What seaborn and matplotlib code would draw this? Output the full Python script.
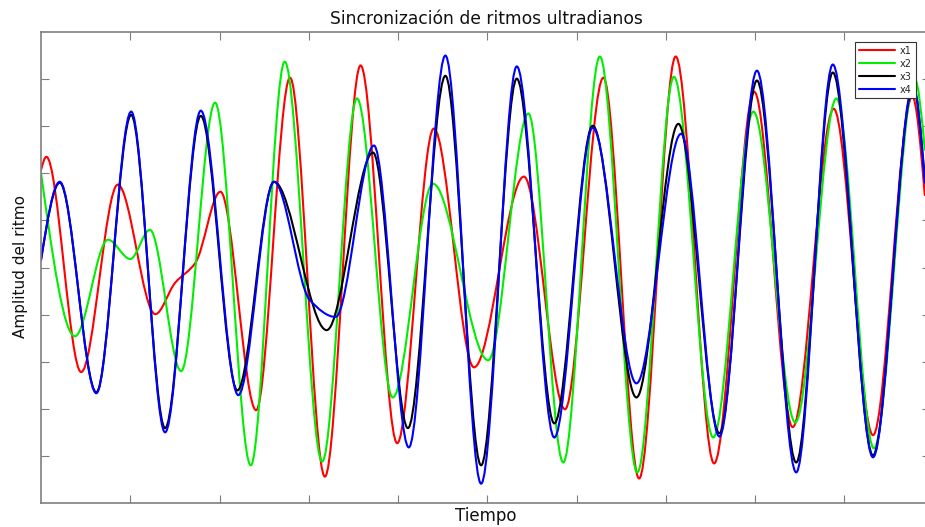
import numpy as np
import matplotlib
matplotlib.use("Agg")
import matplotlib.pyplot as plt
from matplotlib.path import Path
from matplotlib.patches import PathPatch
from matplotlib.lines import Line2D
import seaborn as sns

# extrema (and a few shoulder points), time vs amplitude
t_x1 = [0.00, 0.06, 0.45, 0.86, 1.28, 1.50, 1.73, 2.01, 2.41, 2.79, 3.18, 3.58, 3.99,
        4.40, 4.85, 5.41, 5.87, 6.30, 6.70, 7.11, 7.54, 7.99, 8.42, 8.88, 9.32, 9.76, 9.90]
y_x1 = [2.07, 2.35, -2.22, 1.76, -0.99, -0.33, 0.10, 1.61, -3.03, 4.03, -4.44, 4.29, -3.73,
        2.95, -2.12, 1.93, -3.01, 4.03, -4.48, 4.48, -4.16, 3.73, -3.39, 3.37, -3.56, 3.63, 1.54]

t_x2 = [0.00, 0.38, 0.75, 1.00, 1.22, 1.57, 1.95, 2.35, 2.73, 3.15, 3.54, 3.94, 4.39,
        5.01, 5.46, 5.85, 6.26, 6.68, 7.09, 7.53, 7.98, 8.45, 8.91, 9.33, 9.79, 9.90]
y_x2 = [2.01, -1.46, 0.59, 0.18, 0.80, -2.20, 3.50, -4.20, 4.37, -4.12, 3.59, -2.76, 1.78,
        -1.97, 3.27, -4.14, 4.48, -4.35, 4.05, -3.61, 3.31, -3.29, 3.59, -3.84, 3.99, 2.50]

t_x3 = [0.00, 0.21, 0.62, 1.01, 1.39, 1.79, 2.20, 2.61, 3.20, 3.72, 4.11, 4.53, 4.93,
        5.33, 5.75, 6.18, 6.67, 7.14, 7.60, 8.02, 8.46, 8.87, 9.32, 9.77, 9.90]
y_x3 = [0.16, 1.80, -2.65, 3.24, -3.41, 3.22, -2.61, 1.82, -1.33, 2.44, -3.41, 4.07, -4.20,
        4.01, -3.31, 3.01, -2.76, 3.05, -3.52, 3.97, -4.14, 4.14, -3.99, 3.82, 1.90]

t_x4 = [0.00, 0.21, 0.62, 1.01, 1.39, 1.79, 2.21, 2.61, 3.01, 3.30, 3.73, 4.12, 4.53,
        4.93, 5.33, 5.75, 6.18, 6.67, 7.17, 7.60, 8.02, 8.46, 8.87, 9.32, 9.77, 9.90]
y_x4 = [0.16, 1.82, -2.67, 3.31, -3.50, 3.33, -2.71, 1.82, -0.69, -1.05, 2.59, -3.82, 4.50,
        -4.59, 4.27, -3.61, 2.97, -2.46, 2.84, -3.59, 4.18, -4.35, 4.31, -4.03, 3.88, 1.80]

series = [("x1", t_x1, y_x1, "#ff0000"),
          ("x2", t_x2, y_x2, "#00ee00"),
          ("x3", t_x3, y_x3, "#000000"),
          ("x4", t_x4, y_x4, "#0000ff")]


def smooth_path(t, y):
    # monotone cubic (pchip style) tangents, drawn as bezier segments
    t = np.asarray(t, float)
    y = np.asarray(y, float)
    h = np.diff(t)
    d = np.diff(y) / h
    m = np.zeros_like(y)
    for i in range(1, len(y) - 1):
        if d[i - 1] * d[i] > 0:
            w1 = 2 * h[i] + h[i - 1]
            w2 = h[i] + 2 * h[i - 1]
            m[i] = (w1 + w2) / (w1 / d[i - 1] + w2 / d[i])
    m[0] = 1.5 * d[0]
    m[-1] = 1.5 * d[-1]
    verts = [(t[0], y[0])]
    codes = [Path.MOVETO]
    for i in range(len(t) - 1):
        verts += [(t[i] + h[i] / 3, y[i] + m[i] * h[i] / 3),
                  (t[i + 1] - h[i] / 3, y[i + 1] - m[i + 1] * h[i] / 3),
                  (t[i + 1], y[i + 1])]
        codes += [Path.CURVE4] * 3
    return Path(verts, codes)


sns.set_theme(style="white")
plt.rcParams['font.family'] = ['DejaVu Sans']

fig = plt.figure(figsize=(9.25, 5.27), dpi=100)
ax = fig.add_axes([41 / 925, 24 / 527, 889 / 925, 471 / 527])

handles = []
for name, t, y, c in series:
    ax.add_patch(PathPatch(smooth_path(t, y), fill=False, edgecolor=c, lw=1.5,
                           joinstyle="round", capstyle="round"))
    handles.append(Line2D([], [], color=c, lw=1.5, label=name))

ax.set_xlim(0, 889 / 89.27)
ax.set_ylim(-5, 5)
ax.set_xticks(range(1, 10))
ax.set_yticks(range(-4, 5))
ax.tick_params(direction="in", length=5.8, width=0.8, color="#7f7f7f",
               top=True, right=True, bottom=True, left=True,
               labelbottom=False, labelleft=False)
for sp in ax.spines.values():
    sp.set_color("#7f7f7f")
    sp.set_linewidth(1.2)

leg = ax.legend(handles=handles, loc="upper right", bbox_to_anchor=(0.984, 0.979),
                borderaxespad=0, fontsize=7, handlelength=3.7, handletextpad=0.5,
                labelspacing=0.3, borderpad=0.4, fancybox=False, framealpha=1,
                edgecolor="#333333")
leg.get_frame().set_linewidth(0.8)

fig.text(486 / 925, 1 - 24 / 527, "Sincronización de ritmos ultradianos",
         ha="center", va="baseline", fontsize=12.3, color="#111111")
fig.text(486 / 925, 1 - 521 / 527, "Tiempo", ha="center", va="baseline",
         fontsize=12, color="#111111")
fig.text(21 / 925, 1 - 266.5 / 527, "Amplitud del ritmo", ha="center", va="center",
         rotation=90, fontsize=11, color="#111111")

fig.savefig("out.png", dpi=100)
